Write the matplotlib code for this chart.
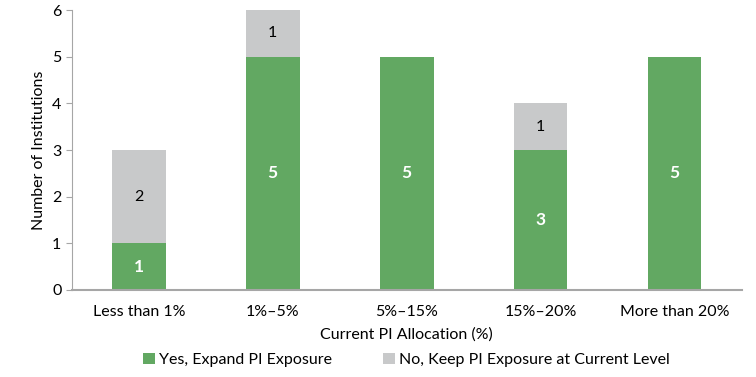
import matplotlib.pyplot as plt
import numpy as np

plt.rcParams['font.family'] = ['Lato', 'DejaVu Sans']

categories = ["Less than 1%", "1%\u20135%", "5%\u201315%", "15%\u201320%", "More than 20%"]
yes_vals = [1, 5, 5, 3, 5]
no_vals = [2, 1, 0, 1, 0]

green = "#62a862"
grey = "#c8c9ca"

fig = plt.figure(figsize=(7.56, 3.77), dpi=100)
ax = fig.add_axes([0.095, 0.231, 0.886, 0.742])

x = np.arange(len(categories))
ax.bar(x, yes_vals, width=0.4, color=green, label="Yes, Expand PI Exposure")
ax.bar(x, no_vals, width=0.4, bottom=yes_vals, color=grey,
       label="No, Keep PI Exposure at Current Level")

for i in range(len(categories)):
    if yes_vals[i] > 0:
        ax.text(x[i], yes_vals[i] / 2, str(yes_vals[i]), ha="center", va="center",
                color="white", fontsize=12.5, fontweight="bold")
    if no_vals[i] > 0:
        ax.text(x[i], yes_vals[i] + no_vals[i] / 2, str(no_vals[i]), ha="center",
                va="center", color="black", fontsize=11.5)

ax.set_xlim(-0.5, 4.5)
ax.set_ylim(0, 6)
ax.set_yticks(range(0, 7))
ax.set_xticks(x)
ax.set_xticklabels(categories, fontsize=11.5)
ax.tick_params(axis="y", labelsize=11.5, length=4, color="#a6a6a6")
ax.tick_params(axis="x", length=0, pad=11)
for s in ["top", "right"]:
    ax.spines[s].set_visible(False)
ax.spines["left"].set_color("#a6a6a6")
ax.spines["bottom"].set_color("#a6a6a6")
ax.spines["bottom"].set_linewidth(1.5)

ax.set_ylabel("Number of Institutions", fontsize=11.5)
ax.set_xlabel("Current PI Allocation (%)", fontsize=11.5, labelpad=6)

ax.legend(loc="upper center", bbox_to_anchor=(0.5, -0.175), ncol=2, frameon=False,
          fontsize=11.5, handlelength=0.7, handleheight=0.7, columnspacing=3.2,
          handletextpad=0.3)

plt.savefig("out.png", dpi=100)
